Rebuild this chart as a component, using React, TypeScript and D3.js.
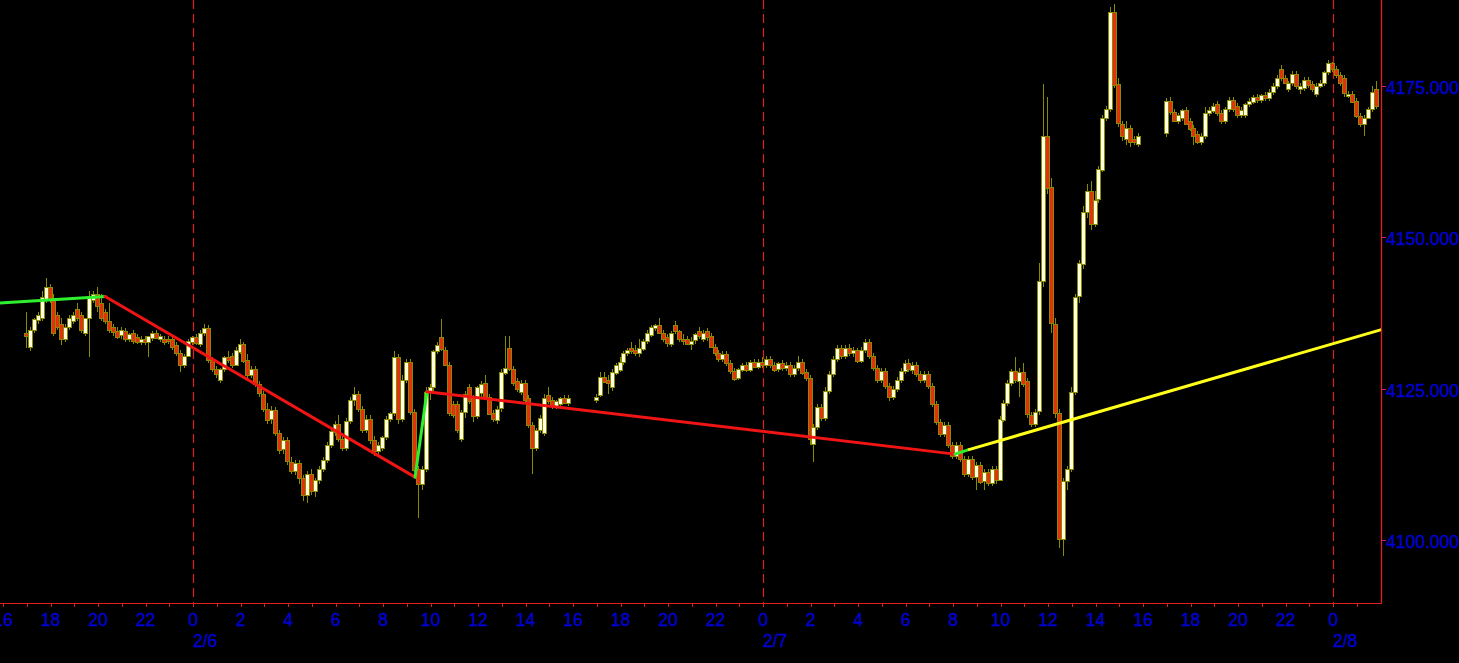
import React, { useRef, useEffect } from 'react';
import * as d3 from 'd3';

// 10-minute bars, one array per trading session: [open, high, low, close]
const session1Start = '2023-02-05 17:00';
const session1Bars = [
  [4134.5, 4138, 4132, 4134], [4132.25, 4135.5, 4131.5, 4135], [4135, 4137, 4134.5, 4136.75], [4136.75, 4138, 4136, 4137.5],
  [4137, 4141.5, 4136.5, 4140.5], [4140, 4143.5, 4139.5, 4142], [4142, 4142.5, 4139.5, 4140], [4140.25, 4141, 4134, 4134.5],
  [4137.5, 4138, 4135, 4135.5], [4136, 4137, 4132.5, 4133.5], [4133.5, 4136, 4133, 4135.5], [4135.5, 4137.5, 4135, 4137],
  [4136.5, 4138, 4136, 4137.5], [4138.5, 4139.5, 4136.5, 4137], [4137.5, 4138, 4134.5, 4135], [4134.5, 4137, 4134, 4137],
  [4137, 4141.5, 4130.5, 4140.5], [4140, 4141.5, 4139.5, 4141], [4141, 4142, 4138, 4139], [4139.5, 4141, 4136.5, 4137],
  [4138, 4138.5, 4136, 4136.5], [4136.5, 4139.5, 4134.5, 4135], [4135.5, 4136, 4134, 4134.75], [4134.75, 4135.5, 4133.5, 4133.75],
  [4134.25, 4135.5, 4133.5, 4135], [4134.75, 4135.25, 4133, 4133.5], [4133.5, 4134.5, 4133, 4134.25], [4134.5, 4135, 4132.75, 4133.25],
  [4133.75, 4134.25, 4132.75, 4133], [4133, 4134, 4132.5, 4133.5], [4133.5, 4134, 4132.5, 4133], [4133, 4134, 4130.5, 4134],
  [4133.75, 4134.75, 4133.25, 4134.5], [4134.5, 4135, 4133.5, 4133.75], [4133.5, 4134.25, 4133, 4134], [4133.5, 4134, 4132.5, 4133],
  [4133.5, 4134, 4132.75, 4133.25], [4133.5, 4134, 4131.75, 4132.25], [4132.5, 4133, 4130.75, 4131.25], [4131.25, 4131.75, 4128, 4129.25],
  [4129.25, 4131, 4128.75, 4130.75], [4130.75, 4133.5, 4130.5, 4133.25], [4133, 4134, 4132.5, 4133.75], [4133.75, 4134.25, 4132.5, 4132.75],
  [4132.75, 4135, 4132.25, 4134.5], [4134.5, 4136, 4134, 4135.25], [4135.25, 4135.75, 4129.5, 4130], [4130, 4130.5, 4128, 4128.5],
  [4128.5, 4129, 4127, 4127.75], [4126.75, 4128.75, 4126.25, 4128.5], [4128.5, 4130.75, 4128, 4130.5], [4130.5, 4131.5, 4129.5, 4130],
  [4130.75, 4131.25, 4128.75, 4129.25], [4129.25, 4132.25, 4129, 4131.75], [4131.5, 4133.5, 4131, 4132.75], [4132.75, 4133, 4129.5, 4130],
  [4130, 4131, 4127, 4127.5], [4127.5, 4129, 4127, 4128.5], [4128.5, 4129, 4125.5, 4126], [4126, 4126.5, 4124, 4124.5],
  [4124.5, 4125, 4121.5, 4122], [4122, 4123, 4119.5, 4120.25], [4120.25, 4122.5, 4119.5, 4121.75], [4121.75, 4122.25, 4117.5, 4118],
  [4118, 4118.5, 4114.5, 4115.25], [4115.25, 4117.25, 4114.5, 4116.75], [4116.75, 4117.25, 4112.75, 4113.25], [4113.25, 4114, 4111.25, 4111.75],
  [4111.75, 4113.5, 4111, 4113], [4113, 4113.5, 4109.5, 4110.5], [4110.5, 4111, 4106.75, 4107.75], [4107.75, 4111.75, 4106.5, 4111.25],
  [4111.25, 4112, 4107.75, 4108.5], [4108.5, 4110.5, 4107.5, 4110.25], [4110.25, 4112.5, 4109.5, 4112], [4112, 4114, 4111.5, 4113.5],
  [4113.5, 4116.5, 4113, 4116], [4116, 4119, 4115.5, 4118.25], [4118.25, 4120, 4117.5, 4119.5], [4119.5, 4121, 4116.5, 4117],
  [4117, 4117.5, 4115, 4115.5], [4115.5, 4120.5, 4115, 4120], [4120, 4124, 4119.5, 4123.5], [4123.5, 4125.5, 4122.5, 4124.5],
  [4124.5, 4125, 4121.5, 4122], [4122, 4122.5, 4118, 4118.5], [4118.5, 4121, 4118, 4120.25], [4120.25, 4121, 4116.25, 4116.75],
  [4116.75, 4117.5, 4114.25, 4115], [4115, 4116.5, 4114.5, 4116], [4115.5, 4117.5, 4115, 4117.25], [4117.25, 4120.75, 4116.75, 4120.25],
  [4120.25, 4121.5, 4119.75, 4121.25], [4121.25, 4131.5, 4120.75, 4130.5], [4130.5, 4131, 4119.5, 4120.25], [4120.25, 4127.5, 4119.75, 4126.75],
  [4126.75, 4130.25, 4126.25, 4129.75], [4129.75, 4130.25, 4121, 4121.5], [4121.5, 4122, 4111.5, 4112], [4112, 4112.5, 4104, 4109.5],
  [4109.5, 4112.5, 4108.5, 4112], [4112, 4125.5, 4111.5, 4124.75], [4124.75, 4126, 4123.5, 4125.5], [4125.5, 4131.75, 4125, 4131.5],
  [4131.5, 4133, 4131, 4132.5], [4133.75, 4136.75, 4131.5, 4131.75], [4131.75, 4132.25, 4129, 4129.25], [4129.25, 4129.75, 4120.75, 4121.25],
  [4122.75, 4123.25, 4120.5, 4121], [4122.75, 4123.25, 4118, 4118.5], [4117, 4121.75, 4116.5, 4121.5], [4121.5, 4125, 4120.5, 4124.5],
  [4125.5, 4126, 4122.75, 4123.25], [4123.75, 4124.25, 4119.75, 4120.75], [4120.75, 4125.75, 4120.25, 4125.5], [4124.5, 4126.5, 4124, 4126],
  [4126.25, 4127.5, 4123.5, 4124], [4124, 4124.5, 4121, 4121.25], [4121.25, 4121.75, 4119.75, 4120.25], [4120.25, 4122.5, 4119.5, 4122],
  [4122, 4128.5, 4121.5, 4128], [4128, 4134, 4127.5, 4128.75], [4132, 4134, 4128.25, 4128.5], [4128.5, 4129, 4125.75, 4126.25],
  [4126.5, 4127, 4124.75, 4125.25], [4124.75, 4126.75, 4124.25, 4126.25], [4126.25, 4126.75, 4123, 4123.5], [4123.75, 4124.25, 4118.75, 4119.25],
  [4119.25, 4119.75, 4111.25, 4115.5], [4115.5, 4118.75, 4115, 4118.5], [4118.5, 4121, 4118, 4120.5], [4118, 4124.5, 4117.5, 4123.75],
  [4124.25, 4125.5, 4122.75, 4123.25], [4123.5, 4124, 4122, 4122.5], [4122.5, 4123.5, 4122, 4123.25], [4122.75, 4124, 4122.25, 4123.75],
  [4123.75, 4124.25, 4122.75, 4123], [4123, 4124.25, 4122.5, 4123.75],
];

const session2Start = '2023-02-06 17:00';
const session2Bars = [
  [4123.5, 4124.5, 4123, 4124], [4124.25, 4128, 4124, 4127.25], [4127.25, 4128, 4126.25, 4126.5], [4126.75, 4127.5, 4124.5, 4126.25],
  [4125.5, 4128.5, 4125, 4128], [4128, 4129.5, 4127.5, 4129.25], [4128.5, 4130.5, 4128, 4129.75], [4129.75, 4131.5, 4129.25, 4131.25],
  [4131.25, 4132, 4130.75, 4131.75], [4132, 4133, 4131, 4131.5], [4131.75, 4132.5, 4130.75, 4131.25], [4131.25, 4133.5, 4130.5, 4132],
  [4132, 4133.5, 4131.5, 4133.25], [4133.25, 4135, 4132.75, 4134.5], [4134.25, 4135.75, 4133.75, 4135.5], [4135.25, 4136, 4134.75, 4135.75],
  [4135.75, 4137, 4134.25, 4134.5], [4134.5, 4135, 4133, 4133.5], [4133.75, 4134.25, 4132.25, 4132.75], [4132.75, 4134.75, 4132.25, 4134.5],
  [4135.75, 4136.5, 4134.25, 4134.75], [4134.75, 4135, 4133, 4133.5], [4133.5, 4134.25, 4132.5, 4133.25], [4133.5, 4134, 4132.5, 4132.75],
  [4132.75, 4133.75, 4131.75, 4133.25], [4133.25, 4134.5, 4132.75, 4134.25], [4134.75, 4135.5, 4133.5, 4134], [4133.5, 4135, 4133, 4134.5],
  [4134.75, 4135.25, 4133.25, 4133.75], [4134, 4134.5, 4132, 4132.25], [4132.25, 4132.75, 4130.75, 4131.25], [4131.25, 4131.75, 4129.75, 4130.25],
  [4130.25, 4131.5, 4129.75, 4131], [4131, 4131.5, 4129, 4129.5], [4129.5, 4130, 4127.75, 4128.25], [4128.25, 4128.75, 4126.5, 4127],
  [4127, 4128.75, 4126.75, 4128.5], [4128.5, 4129.5, 4128, 4129.25], [4129.25, 4129.75, 4128, 4128.5], [4128.5, 4130, 4128, 4129.75],
  [4129.75, 4130.25, 4128.75, 4129], [4129, 4130.25, 4128.5, 4129.75], [4129.75, 4130.5, 4128.75, 4129.25], [4129.25, 4130.75, 4128.75, 4130.25],
  [4130.25, 4130.75, 4128.75, 4129.25], [4129.25, 4129.75, 4128, 4128.5], [4128.5, 4129.75, 4128, 4129.5], [4129.5, 4130, 4128.25, 4128.75],
  [4128.75, 4129.75, 4128.25, 4129.25], [4129.25, 4129.75, 4127.25, 4127.75], [4127.75, 4129.25, 4127.25, 4128.75], [4128.75, 4130.75, 4128.25, 4129.75],
  [4129.75, 4130.25, 4127.5, 4128], [4128, 4128.5, 4126.5, 4127], [4127, 4127.5, 4116, 4117], [4116.25, 4119.5, 4113.25, 4119],
  [4119, 4122.75, 4118.5, 4122.25], [4122.25, 4122.75, 4120, 4120.5], [4120.5, 4125.5, 4120, 4125], [4125, 4128.25, 4124.5, 4127.75],
  [4127.75, 4130.75, 4127.25, 4130.25], [4130.25, 4132.5, 4129.75, 4132], [4132, 4132.5, 4130.25, 4130.75], [4130.75, 4132.5, 4130.25, 4132],
  [4132, 4132.75, 4130.75, 4131.25], [4131.25, 4132.25, 4130.5, 4131.75], [4131.75, 4132, 4129.5, 4130], [4130, 4132.25, 4129.5, 4131.75],
  [4131.75, 4133.5, 4131.25, 4133], [4133, 4133.5, 4130.25, 4130.75], [4130.75, 4131.25, 4128.25, 4128.75], [4128.75, 4129.25, 4126.25, 4126.75],
  [4126.75, 4128.75, 4126.25, 4128.25], [4128.25, 4128.75, 4125.25, 4125.75], [4125.75, 4126.25, 4123.25, 4124], [4124, 4125.75, 4123.5, 4125.25],
  [4125.25, 4127.25, 4124.75, 4126.75], [4126.75, 4128.75, 4126.25, 4128.25], [4128.25, 4130, 4127.75, 4129.5], [4129.5, 4130.25, 4128, 4128.5],
  [4128.5, 4129.75, 4127.75, 4129.25], [4129.25, 4129.75, 4127.25, 4127.75], [4127.75, 4128.25, 4126.25, 4126.75], [4126.75, 4128.25, 4126.25, 4127.75],
  [4127.75, 4128.25, 4125.25, 4125.75], [4125.75, 4126.25, 4122.25, 4122.75], [4122.75, 4123.25, 4119.25, 4119.75], [4119.75, 4120.25, 4117.25, 4117.75],
  [4117.75, 4119.75, 4117.25, 4119.25], [4119.25, 4119.75, 4115.5, 4116], [4116, 4116.5, 4113.75, 4114.25], [4114.25, 4116.5, 4113.75, 4116],
  [4116, 4116.5, 4113.25, 4113.75], [4113.75, 4114.25, 4110.75, 4111.25], [4111.25, 4114.25, 4110.75, 4113.75], [4113.75, 4114.25, 4110.25, 4110.75],
  [4110.75, 4113.25, 4108.5, 4112.75], [4112.75, 4113.25, 4109.5, 4110], [4110, 4112, 4108.5, 4111.5], [4111.5, 4112, 4109.25, 4109.75],
  [4109.75, 4112.5, 4109.25, 4112], [4112, 4112.5, 4109.5, 4110.25], [4110.25, 4120.75, 4110, 4120.25], [4120.25, 4123.5, 4119.75, 4123],
  [4123, 4126.75, 4122.5, 4126.25], [4126.25, 4128.5, 4125.75, 4128.25], [4128.25, 4130.5, 4126.25, 4126.75], [4126.5, 4128.75, 4124, 4128],
  [4128, 4129.5, 4125.5, 4126], [4126.5, 4127, 4120.5, 4121], [4121, 4121.5, 4119, 4119.5], [4119.5, 4122, 4119, 4121.5],
  [4121.5, 4146, 4121, 4143], [4143, 4175.5, 4142, 4167], [4167, 4173.5, 4157.5, 4158.5], [4158.5, 4160, 4134.5, 4136],
  [4136, 4137, 4120.5, 4121.25], [4121.25, 4122, 4099, 4100.5], [4100.5, 4110.5, 4097.75, 4110], [4110, 4112.5, 4108.5, 4112],
  [4112, 4125.5, 4111.5, 4124.75], [4124.75, 4141, 4124.25, 4140.5], [4140.5, 4146.5, 4139.5, 4146], [4146, 4155.5, 4145, 4154.5],
  [4154.5, 4159, 4153.5, 4158], [4158, 4159.5, 4151.5, 4152.5], [4152.5, 4158, 4152, 4156.5], [4156.5, 4162, 4156, 4161.5],
  [4161.5, 4170.5, 4161, 4170], [4170, 4172, 4169.5, 4171.5], [4171.5, 4188.25, 4171, 4187.5], [4187.5, 4188.75, 4175, 4175.5],
  [4175.5, 4176.5, 4168.5, 4169], [4169, 4169.5, 4166.25, 4167], [4166.5, 4169.5, 4165.5, 4168.25], [4168.25, 4168.75, 4165.25, 4166],
  [4166.5, 4167, 4165.5, 4166], [4165.75, 4167.5, 4165.25, 4167],
];

const session3Start = '2023-02-07 17:00';
const session3Bars = [
  [4167.5, 4173.25, 4166.75, 4172.75], [4172.75, 4173.5, 4170.5, 4171], [4171, 4171.5, 4169.25, 4169.5], [4169.5, 4170.75, 4169, 4170.5],
  [4170, 4171.5, 4169.5, 4171.25], [4171.25, 4171.75, 4168.75, 4169], [4169.5, 4170, 4167.75, 4168.25], [4168.25, 4168.75, 4165.5, 4167],
  [4167.25, 4167.75, 4165.75, 4166], [4166, 4167.5, 4165.5, 4167], [4167, 4171.75, 4166.5, 4170.75], [4170.75, 4171.75, 4170.25, 4171.25],
  [4171.25, 4172.5, 4170.75, 4172], [4172.25, 4172.75, 4170.25, 4170.75], [4170.75, 4171.25, 4169, 4169.5], [4169.5, 4171.75, 4169, 4171.5],
  [4171.5, 4173.5, 4171, 4173], [4173, 4173.5, 4171, 4171.5], [4172, 4172.5, 4170, 4170.5], [4170.5, 4171.75, 4170, 4171.25],
  [4170.5, 4172.5, 4170, 4172.25], [4172.25, 4173.25, 4171.75, 4172.75], [4172.75, 4173.75, 4172.25, 4173.5], [4173.5, 4174, 4172.5, 4173],
  [4173, 4174, 4172.5, 4173.75], [4173.75, 4174.25, 4172.75, 4173.25], [4173.25, 4174.75, 4172.75, 4174.25], [4174.25, 4175.75, 4173.75, 4175.25],
  [4175.25, 4177, 4174.75, 4176.5], [4178, 4178.75, 4176, 4176.5], [4176.5, 4177, 4175.5, 4175.75], [4174.75, 4176, 4174.25, 4175.75],
  [4175.75, 4177.75, 4175.25, 4177.25], [4177.25, 4177.75, 4174.75, 4175.25], [4174.75, 4175.75, 4174, 4175.25], [4175, 4176.75, 4174.5, 4176.25],
  [4176.25, 4176.75, 4175, 4175.5], [4175.5, 4176, 4174.25, 4174.75], [4174, 4175.75, 4173.5, 4175.25], [4175.25, 4176.25, 4175, 4175.75],
  [4175.75, 4177.75, 4175.25, 4177.5], [4177.5, 4179.5, 4177, 4179], [4179, 4179.25, 4177.5, 4178], [4178, 4178.5, 4176.5, 4177],
  [4177, 4177.5, 4175.25, 4175.75], [4176.5, 4177, 4173.5, 4174], [4173.75, 4174.5, 4173.25, 4174], [4174, 4174.5, 4172.5, 4172.75],
  [4172.75, 4173.25, 4170, 4170.25], [4170.25, 4170.75, 4168.5, 4169], [4169, 4170.5, 4167, 4170], [4170, 4171.75, 4169.75, 4171.5],
  [4171.5, 4175.25, 4171, 4174.25], [4174.75, 4176, 4171.5, 4172],
];

// swing line (up legs green, down legs red) and the yellow projection
const zigzagTimes = ['2023-02-05 15:40', '2023-02-05 20:18', '2023-02-06 09:21', '2023-02-06 09:51', '2023-02-07 08:05', '2023-02-07 08:38'];
const zigzagPrices = [4139.4, 4140.5, 4110.7, 4124.8, 4114.5, 4115.2];
const projectionTimes = ['2023-02-07 08:38', '2023-02-08 02:10'];
const projectionPrices = [4115.2, 4135.2];

const priceTicks = [4100, 4125, 4150, 4175];
const dayStarts = ['2023-02-06 00:00', '2023-02-07 00:00', '2023-02-08 00:00'];

const parse = d3.timeParse('%Y-%m-%d %H:%M');

const App: React.FC = () => {
  const ref = useRef<SVGSVGElement>(null);

  useEffect(() => {
    const width = 1459;
    const height = 663;
    const plotRight = 1381;
    const plotBottom = 603;
    const hourMs = 3600 * 1000;
    const pxPerHour = 23.75;

    const svg = d3.select(ref.current);
    svg.selectAll('*').remove();
    svg.attr('width', width).attr('height', height);

    svg.append('rect').attr('width', width).attr('height', height).attr('fill', '#000');

    const anchor = parse(dayStarts[0])!;
    const x = d3.scaleTime()
      .domain([new Date(+anchor - (193 / pxPerHour) * hourMs), new Date(+anchor + ((plotRight - 193) / pxPerHour) * hourMs)])
      .range([0, plotRight]);
    const y = d3.scaleLinear().domain([4100, 4175]).range([542, 87.5]);

    const bars: { t: Date; o: number; h: number; l: number; c: number }[] = [];
    [[session1Start, session1Bars], [session2Start, session2Bars], [session3Start, session3Bars]].forEach(([start, rows]: any) => {
      const t0 = parse(start)!;
      rows.forEach((r: number[], i: number) => {
        bars.push({ t: d3.timeMinute.offset(t0, i * 10), o: r[0], h: r[1], l: r[2], c: r[3] });
      });
    });

    const plot = svg.append('g');
    plot.append('clipPath').attr('id', 'plotClip')
      .append('rect').attr('x', 0).attr('y', 0).attr('width', plotRight).attr('height', plotBottom);

    // day separators
    plot.selectAll('line.day')
      .data(dayStarts.map(d => parse(d)!))
      .join('line')
      .attr('x1', d => Math.round(x(d)) + 0.5)
      .attr('x2', d => Math.round(x(d)) + 0.5)
      .attr('y1', 0)
      .attr('y2', plotBottom)
      .attr('stroke', '#e01e1e')
      .attr('stroke-width', 1.2)
      .attr('stroke-dasharray', '9,5');

    // candles
    const cg = plot.append('g').attr('clip-path', 'url(#plotClip)').attr('shape-rendering', 'crispEdges');
    bars.forEach(b => {
      const cx = Math.round(x(b.t));
      cg.append('line')
        .attr('x1', cx - 0.5).attr('x2', cx - 0.5)
        .attr('y1', y(b.h)).attr('y2', y(b.l))
        .attr('stroke', '#8a8a00');
      const top = Math.min(y(b.o), y(b.c));
      const h = Math.max(1, Math.abs(y(b.o) - y(b.c)));
      cg.append('rect')
        .attr('x', cx - 2.5)
        .attr('y', Math.round(top) + 0.5)
        .attr('width', 4)
        .attr('height', Math.round(h))
        .attr('fill', b.c >= b.o ? '#ffffe2' : '#e4300c')
        .attr('stroke', '#8a8a00')
        .attr('stroke-width', 1);
    });

    // zigzag
    const zg = plot.append('g').attr('clip-path', 'url(#plotClip)');
    const zz = zigzagTimes.map((t, i) => ({ t: parse(t)!, p: zigzagPrices[i] }));
    for (let i = 0; i < zz.length - 1; i++) {
      const a = zz[i];
      const b = zz[i + 1];
      zg.append('line')
        .attr('x1', x(a.t)).attr('y1', y(a.p))
        .attr('x2', x(b.t)).attr('y2', y(b.p))
        .attr('stroke', b.p >= a.p ? '#2ef02e' : '#f01414')
        .attr('stroke-width', 3)
        .attr('stroke-linecap', 'round');
    }
    const proj = projectionTimes.map((t, i) => ({ t: parse(t)!, p: projectionPrices[i] }));
    zg.append('path')
      .datum(proj)
      .attr('fill', 'none')
      .attr('stroke', '#ffff1a')
      .attr('stroke-width', 3)
      .attr('d', d3.line<{ t: Date; p: number }>().x(d => x(d.t)).y(d => y(d.p)));

    // frame
    const axisColor = '#e02020';
    svg.append('line')
      .attr('x1', 0).attr('x2', plotRight + 0.5)
      .attr('y1', plotBottom + 0.5).attr('y2', plotBottom + 0.5)
      .attr('stroke', axisColor);
    svg.append('line')
      .attr('x1', plotRight + 0.5).attr('x2', plotRight + 0.5)
      .attr('y1', 0).attr('y2', plotBottom + 0.5)
      .attr('stroke', axisColor)
      .attr('stroke-width', 1.3);

    const font = '"Liberation Sans", Arial, sans-serif';
    const labelColor = '#0000d4';

    // time axis (hourly ticks inside the plot, labels every 2 hours)
    const hours = x.ticks(d3.timeHour.every(1)!).filter(d => x(d) < plotRight - 2);
    svg.selectAll('line.htick')
      .data(hours)
      .join('line')
      .attr('x1', d => Math.round(x(d)) + 0.5)
      .attr('x2', d => Math.round(x(d)) + 0.5)
      .attr('y1', plotBottom + 1)
      .attr('y2', plotBottom + 4)
      .attr('stroke', axisColor);

    svg.selectAll('text.hour')
      .data(hours.filter(d => d.getHours() % 2 === 0))
      .join('text')
      .attr('x', d => x(d))
      .attr('y', 626)
      .attr('text-anchor', 'middle')
      .attr('fill', labelColor)
      .attr('stroke', labelColor)
      .attr('stroke-width', 0.35)
      .attr('font-family', font)
      .attr('font-size', 17.5)
      .text(d => d3.timeFormat('%-H')(d));

    svg.selectAll('text.day')
      .data(hours.filter(d => d.getHours() === 0))
      .join('text')
      .attr('x', d => x(d))
      .attr('y', 647)
      .attr('fill', labelColor)
      .attr('stroke', labelColor)
      .attr('stroke-width', 0.35)
      .attr('font-family', font)
      .attr('font-size', 17.5)
      .text(d => d3.timeFormat('%-m/%-d')(d));

    // price axis
    svg.selectAll('line.ptick')
      .data(priceTicks)
      .join('line')
      .attr('x1', plotRight + 1)
      .attr('x2', plotRight + 5)
      .attr('y1', d => Math.round(y(d)) - 1.5)
      .attr('y2', d => Math.round(y(d)) - 1.5)
      .attr('stroke', '#d02090');

    svg.selectAll('text.price')
      .data(priceTicks)
      .join('text')
      .attr('x', plotRight + 5)
      .attr('y', d => y(d))
      .attr('dy', '0.37em')
      .attr('fill', labelColor)
      .attr('stroke', labelColor)
      .attr('stroke-width', 0.35)
      .attr('font-family', font)
      .attr('font-size', 17.5)
      .text(d => d3.format('.3f')(d));
  }, []);

  return <svg ref={ref} style={{ position: 'absolute', left: 0, top: 0, display: 'block' }} />;
};

export default App;
